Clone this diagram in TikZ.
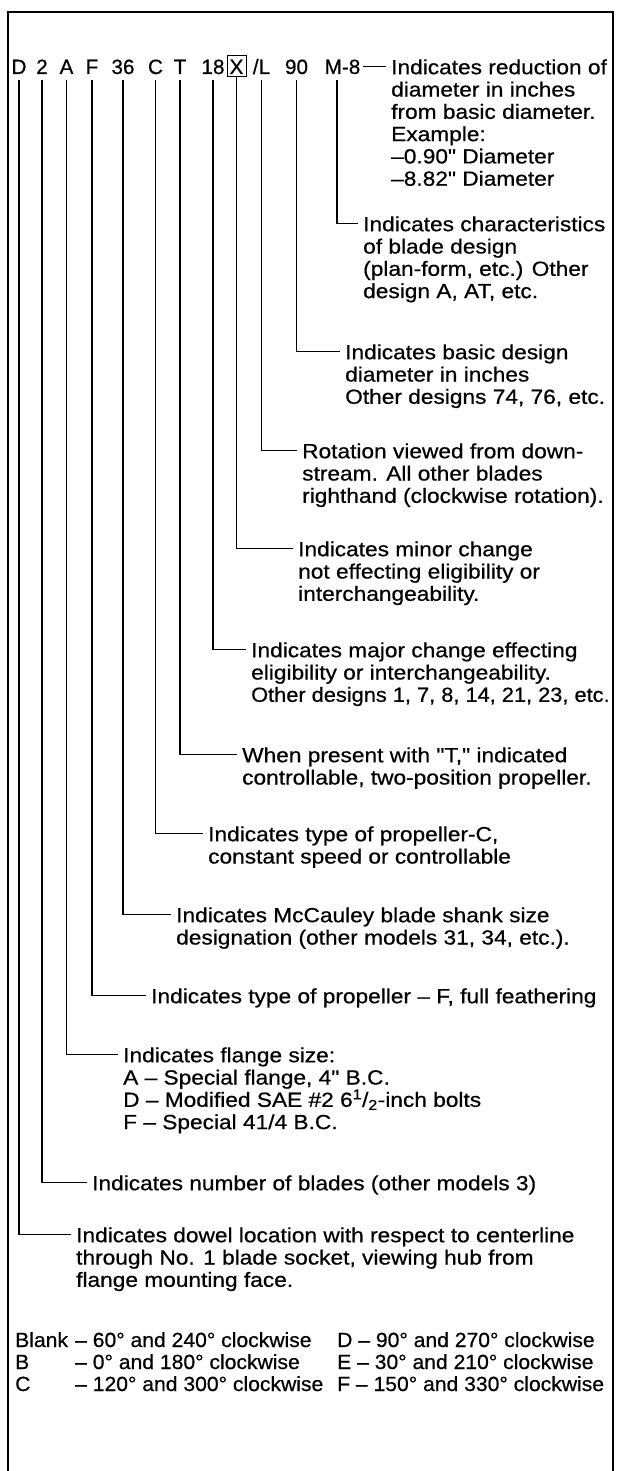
\documentclass[tikz,border=0pt]{standalone}
\usepackage{fontspec}
\usepackage{graphicx}
\setmainfont{Liberation Sans}
\newfontfamily\bodyf{Liberation Sans}[FakeStretch=1.107,FakeBold=0.6]
\newfontfamily\tablef{Liberation Sans}[FakeStretch=1.03,FakeBold=0.6]
\newfontfamily\codef{Liberation Sans}[FakeBold=0.6]
\begin{document}
\begin{tikzpicture}[x=1pt,y=1pt,
  code/.style={font=\codef\fontsize{20.7}{22}\selectfont, anchor=base, inner sep=0pt,
    text height=15pt, text depth=0pt, outer ysep=6pt},
  desc/.style={font=\bodyf\fontsize{20.5}{22.3}\selectfont, anchor=north west,
    inner sep=0pt, align=left},
  tab/.style={font=\tablef\fontsize{20.5}{22.3}\selectfont, anchor=base west, inner sep=0pt},
  lead/.style={line width=1.5pt},
  frame/.style={line width=1.7pt}]
\useasboundingbox (0,0) rectangle (617,-1471);
\fill[white] (0,0) rectangle (617,-1471);
\draw[frame] (8,-1471) -- (8,-12) -- (613,-12) -- (613,-1471);

% code row
\node[code] (cD)  at (19,-74)    {D};
\node[code] (c2)  at (42,-74)    {2};
\node[code] (cA)  at (66.5,-74)  {A};
\node[code] (cF)  at (92,-74)    {F};
\node[code] (c36) at (123,-74)   {36};
\node[code] (cC)  at (155.5,-74) {C};
\node[code] (cT)  at (180,-74)   {T};
\node[code] (c18) at (213,-74)   {18};
\node[code, draw, line width=0.8pt, text height=17pt, inner ysep=2pt,
      minimum width=19pt, outer ysep=0pt] (cX) at (236.5,-74) {X};
\node[code] (cL)  at (261.5,-74) {/L};
\node[code] (c90) at (296.5,-74) {90};
\node[code] (cM)  at (342.5,-74) {M-8};

% descriptions
\node[desc] (t1) at (391,-58.4) {\strut Indicates reduction of\\diameter in inches\\from basic diameter.\\Example:\\–0.90" Diameter\\–8.82" Diameter};
\node[desc] (t2) at (363,-215.4) {\strut Indicates characteristics\\of blade design\\(plan-form, etc.) Other\\design A, AT, etc.};
\node[desc] (t3) at (345,-343.4) {\strut Indicates basic design\\diameter in inches\\Other designs 74, 76, etc.};
\node[desc] (t4) at (302,-442.4) {\strut Rotation viewed from down-\\stream. All other blades\\righthand (clockwise rotation).};
\node[desc] (t5) at (298,-540.4) {\strut Indicates minor change\\not effecting eligibility or\\interchangeability.};
\node[desc] (t6) at (251,-641.4) {\strut Indicates major change effecting\\eligibility or interchangeability.\\\scalebox{0.96}[1]{Other designs 1, 7, 8, 14, 21, 23, etc.}};
\node[desc] (t7) at (242,-746.4) {\strut When present with "T," indicated\\controllable, two-position propeller.};
\node[desc] (t8) at (208,-825.4) {\strut Indicates type of propeller-C,\\constant speed or controllable};
\node[desc] (t9) at (176,-906.4) {\strut Indicates McCauley blade shank size\\designation (other models 31, 34, etc.).};
\node[desc] (t10) at (151,-987.4) {\strut Indicates type of propeller – F, full feathering};
\node[desc] (t11) at (123,-1046.4) {\strut Indicates flange size:\\A – Special flange, 4" B.C.\\D – Modified SAE \#2 6\textsuperscript{1}/\textsubscript{2}-inch bolts\\F – Special 41/4 B.C.};
\node[desc] (t12) at (92,-1174.4) {\strut Indicates number of blades (other models 3)};
\node[desc] (t13) at (76,-1226.4) {\strut Indicates dowel location with respect to centerline\\through No. 1 blade socket, viewing hub from\\flange mounting face.};

% leaders
\draw[lead] ([xshift=2pt]cM.east) -- ([shift={(-5pt,-8.1pt)}]t1.north west);
\draw[lead] ([xshift=-5.5pt]cM.south) |- ([shift={(-5pt,-8.1pt)}]t2.north west);
\draw[lead] (c90.south) |- ([shift={(-5pt,-8.1pt)}]t3.north west);
\draw[lead] (cL.south)  |- ([shift={(-5pt,-8.1pt)}]t4.north west);
\draw[lead] (cX.south)  |- ([shift={(-5pt,-8.1pt)}]t5.north west);
\draw[lead] (c18.south) |- ([shift={(-5pt,-8.1pt)}]t6.north west);
\draw[lead] (cT.south)  |- ([shift={(-5pt,-8.1pt)}]t7.north west);
\draw[lead] (cC.south)  |- ([shift={(-5pt,-8.1pt)}]t8.north west);
\draw[lead] (c36.south) |- ([shift={(-5pt,-8.1pt)}]t9.north west);
\draw[lead] (cF.south)  |- ([shift={(-5pt,-8.1pt)}]t10.north west);
\draw[lead] (cA.south)  |- ([shift={(-5pt,-8.1pt)}]t11.north west);
\draw[lead] (c2.south)  |- ([shift={(-5pt,-8.1pt)}]t12.north west);
\draw[lead] (cD.south)  |- ([shift={(-5pt,-8.1pt)}]t13.north west);

% table
\node[tab] (r1a) at (15,-1347) {Blank};
\node[tab] (r1b) at (75,-1347) {– 60° and 240° clockwise};
\node[tab] (r1c) at (337,-1347) {D – 90° and 270° clockwise};
\node[tab] (r2a) at (15,-1369) {B};
\node[tab] (r2b) at (75,-1369) {– 0° and 180° clockwise};
\node[tab] (r2c) at (337,-1369) {E – 30° and 210° clockwise};
\node[tab] (r3a) at (15,-1391) {C};
\node[tab] (r3b) at (75,-1391) {– 120° and 300° clockwise};
\node[tab] (r3c) at (337,-1391) {F – 150° and 330° clockwise};
\end{tikzpicture}
\end{document}
